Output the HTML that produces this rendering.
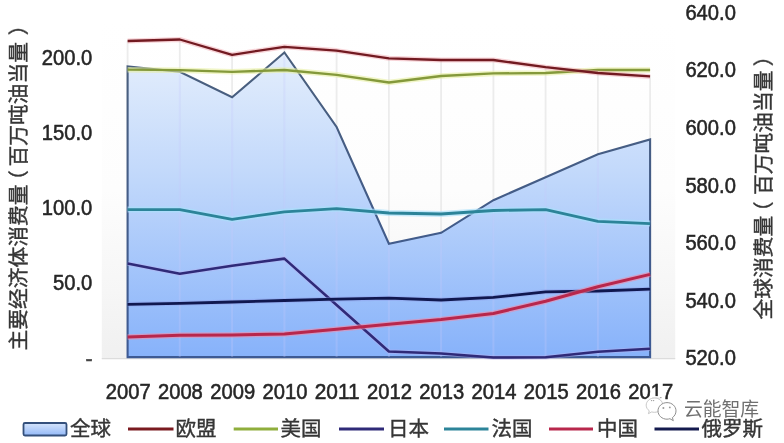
<!DOCTYPE html>
<html lang="zh"><head><meta charset="utf-8"><title>chart</title>
<style>
html,body{margin:0;padding:0;background:#fff;}
body{width:784px;height:443px;overflow:hidden;}
svg{display:block;font-family:"Liberation Sans","Noto Sans CJK SC",sans-serif;}
.num text{font-size:21.2px;fill:#262626;stroke:#262626;stroke-width:0.55px;}
.cjk text{font-size:20.5px;fill:#363636;stroke:#363636;stroke-width:0.4px;} .ttl text{font-size:20.75px;}
</style></head><body>
<svg width="784" height="443" viewBox="0 0 784 443">
<defs>
<linearGradient id="pa" x1="0" y1="0" x2="0" y2="1"><stop offset="0" stop-color="#ffffff"/><stop offset="0.5" stop-color="#fdfdfd"/><stop offset="0.8" stop-color="#f6f6f6"/><stop offset="1" stop-color="#f0f0f0"/></linearGradient>
<linearGradient id="ar" x1="0" y1="0" x2="0" y2="1"><stop offset="0" stop-color="#e4eefc"/><stop offset="0.41" stop-color="#c1d8fb"/><stop offset="1" stop-color="#87b2fa"/></linearGradient>
<linearGradient id="lg" x1="0" y1="0" x2="0" y2="1"><stop offset="0" stop-color="#d6e5fb"/><stop offset="1" stop-color="#94b9f8"/></linearGradient>
<linearGradient id="bd" x1="0" y1="0" x2="0" y2="1"><stop offset="0" stop-color="#4a5f7c"/><stop offset="0.5" stop-color="#435c88"/><stop offset="1" stop-color="#3d5a94"/></linearGradient>
<clipPath id="ac"><path d="M130.6,357.1 L130.6,69.4 L179.8,74.8 L232.1,100.3 L284.4,55.5 L336.6,130.0 L388.9,246.8 L441.1,235.8 L493.4,203.2 L545.6,180.2 L597.9,157.2 L647.1,142.4 L647.1,357.1 Z"/></clipPath>
</defs>
<rect width="784" height="443" fill="#ffffff"/>
<rect x="101.8" y="20" width="573.4" height="339" fill="url(#pa)"/>
<line x1="101.8" y1="358.6" x2="675.2" y2="358.6" stroke="#dcdcdc" stroke-width="1.2"/>
<g stroke="#ececec" stroke-width="1.8"><line x1="127.6" y1="41.0" x2="127.6" y2="357.1"/><line x1="179.8" y1="39.5" x2="179.8" y2="357.1"/><line x1="232.1" y1="54.8" x2="232.1" y2="357.1"/><line x1="284.4" y1="46.8" x2="284.4" y2="357.1"/><line x1="336.6" y1="50.6" x2="336.6" y2="357.1"/><line x1="388.9" y1="58.3" x2="388.9" y2="357.1"/><line x1="441.1" y1="60.0" x2="441.1" y2="357.1"/><line x1="493.4" y1="60.0" x2="493.4" y2="357.1"/><line x1="545.6" y1="67.2" x2="545.6" y2="357.1"/><line x1="597.9" y1="73.0" x2="597.9" y2="357.1"/><line x1="650.1" y1="76.4" x2="650.1" y2="357.1"/></g>
<path d="M127.6,357.1 L127.6,66.4 L179.8,71.8 L232.1,97.3 L284.4,52.5 L336.6,127.0 L388.9,243.8 L441.1,232.8 L493.4,200.2 L545.6,177.2 L597.9,154.2 L650.1,139.4 L650.1,357.1 Z" fill="url(#ar)"/>
<path d="M127.6,357.1 L127.6,66.4 L179.8,71.8 L232.1,97.3 L284.4,52.5 L336.6,127.0 L388.9,243.8 L441.1,232.8 L493.4,200.2 L545.6,177.2 L597.9,154.2 L650.1,139.4 L650.1,357.1 Z" fill="none" stroke="url(#bd)" stroke-width="2.1" stroke-linejoin="miter"/>
<g stroke="#c4c8fa" stroke-width="2" opacity="0.28" clip-path="url(#ac)"><line x1="127.6" y1="41.0" x2="127.6" y2="357.1"/><line x1="179.8" y1="39.5" x2="179.8" y2="357.1"/><line x1="232.1" y1="54.8" x2="232.1" y2="357.1"/><line x1="284.4" y1="46.8" x2="284.4" y2="357.1"/><line x1="336.6" y1="50.6" x2="336.6" y2="357.1"/><line x1="388.9" y1="58.3" x2="388.9" y2="357.1"/><line x1="441.1" y1="60.0" x2="441.1" y2="357.1"/><line x1="493.4" y1="60.0" x2="493.4" y2="357.1"/><line x1="545.6" y1="67.2" x2="545.6" y2="357.1"/><line x1="597.9" y1="73.0" x2="597.9" y2="357.1"/><line x1="650.1" y1="76.4" x2="650.1" y2="357.1"/></g>
<g fill="none" stroke-linejoin="round" stroke-linecap="butt">
<polyline points="127.6,209.6 179.8,209.6 232.1,219.3 284.4,211.8 336.6,208.6 388.9,213.0 441.1,214.0 493.4,210.5 545.6,209.6 597.9,221.3 650.1,223.6" stroke="#a9e0fa" stroke-width="6" opacity="0.65"/>
<polyline points="127.6,209.6 179.8,209.6 232.1,219.3 284.4,211.8 336.6,208.6 388.9,213.0 441.1,214.0 493.4,210.5 545.6,209.6 597.9,221.3 650.1,223.6" stroke="#2c8499" stroke-width="2.8"/>
<polyline points="127.6,263.5 179.8,273.7 232.1,265.8 284.4,258.6 336.6,305.0 388.9,351.5 441.1,353.5 493.4,357.5 545.6,357.3 597.9,351.8 650.1,348.7" stroke="#b9b0f0" stroke-width="4.5" opacity="0.45"/>
<polyline points="127.6,263.5 179.8,273.7 232.1,265.8 284.4,258.6 336.6,305.0 388.9,351.5 441.1,353.5 493.4,357.5 545.6,357.3 597.9,351.8 650.1,348.7" stroke="#2f2a78" stroke-width="2.6"/>
<polyline points="127.6,304.3 179.8,303.3 232.1,302.0 284.4,300.5 336.6,299.2 388.9,298.2 441.1,300.0 493.4,297.4 545.6,291.8 597.9,291.0 650.1,289.2" stroke="#8f9ae8" stroke-width="5" opacity="0.4"/>
<polyline points="127.6,304.3 179.8,303.3 232.1,302.0 284.4,300.5 336.6,299.2 388.9,298.2 441.1,300.0 493.4,297.4 545.6,291.8 597.9,291.0 650.1,289.2" stroke="#10184f" stroke-width="2.8"/>
<polyline points="127.6,337.0 179.8,335.2 232.1,335.0 284.4,333.9 336.6,329.3 388.9,324.2 441.1,319.6 493.4,313.5 545.6,301.2 597.9,286.7 650.1,274.4" stroke="#f08aa8" stroke-width="5.5" opacity="0.6"/>
<polyline points="127.6,337.0 179.8,335.2 232.1,335.0 284.4,333.9 336.6,329.3 388.9,324.2 441.1,319.6 493.4,313.5 545.6,301.2 597.9,286.7 650.1,274.4" stroke="#b8274c" stroke-width="3"/>
<polyline points="127.6,69.7 179.8,70.2 232.1,71.8 284.4,70.0 336.6,74.8 388.9,82.5 441.1,76.0 493.4,73.4 545.6,73.0 597.9,70.0 650.1,70.0" stroke="#e6efa0" stroke-width="5.5" opacity="0.6"/>
<polyline points="127.6,69.7 179.8,70.2 232.1,71.8 284.4,70.0 336.6,74.8 388.9,82.5 441.1,76.0 493.4,73.4 545.6,73.0 597.9,70.0 650.1,70.0" stroke="#84993b" stroke-width="2.3"/>
<polyline points="127.6,41.0 179.8,39.5 232.1,54.8 284.4,46.8 336.6,50.6 388.9,58.3 441.1,60.0 493.4,60.0 545.6,67.2 597.9,73.0 650.1,76.4" stroke="#f0a0a8" stroke-width="5" opacity="0.45"/>
<polyline points="127.6,41.0 179.8,39.5 232.1,54.8 284.4,46.8 336.6,50.6 388.9,58.3 441.1,60.0 493.4,60.0 545.6,67.2 597.9,73.0 650.1,76.4" stroke="#721a21" stroke-width="2.3"/>
</g>
<g class="num"><text x="92.3" y="65.2" text-anchor="end" textLength="50.5" lengthAdjust="spacingAndGlyphs">200.0</text><text x="92.3" y="140" text-anchor="end" textLength="50.5" lengthAdjust="spacingAndGlyphs">150.0</text><text x="92.3" y="214.8" text-anchor="end" textLength="50.5" lengthAdjust="spacingAndGlyphs">100.0</text><text x="92.3" y="289.6" text-anchor="end" textLength="39.3" lengthAdjust="spacingAndGlyphs">50.0</text><text x="92.6" y="365.6" text-anchor="end" style="fill:#444;stroke:#444">-</text><text x="685.4" y="19.8" textLength="50.5" lengthAdjust="spacingAndGlyphs">640.0</text><text x="685.4" y="77.4" textLength="50.5" lengthAdjust="spacingAndGlyphs">620.0</text><text x="685.4" y="135" textLength="50.5" lengthAdjust="spacingAndGlyphs">600.0</text><text x="685.4" y="192.6" textLength="50.5" lengthAdjust="spacingAndGlyphs">580.0</text><text x="685.4" y="250.2" textLength="50.5" lengthAdjust="spacingAndGlyphs">560.0</text><text x="685.4" y="307.8" textLength="50.5" lengthAdjust="spacingAndGlyphs">540.0</text><text x="685.4" y="365.3" textLength="50.5" lengthAdjust="spacingAndGlyphs">520.0</text><text x="128.2" y="399.2" text-anchor="middle" textLength="44.9" lengthAdjust="spacingAndGlyphs">2007</text><text x="180.4" y="399.2" text-anchor="middle" textLength="44.9" lengthAdjust="spacingAndGlyphs">2008</text><text x="232.7" y="399.2" text-anchor="middle" textLength="44.9" lengthAdjust="spacingAndGlyphs">2009</text><text x="285.0" y="399.2" text-anchor="middle" textLength="44.9" lengthAdjust="spacingAndGlyphs">2010</text><text x="337.2" y="399.2" text-anchor="middle" textLength="44.9" lengthAdjust="spacingAndGlyphs">2011</text><text x="389.5" y="399.2" text-anchor="middle" textLength="44.9" lengthAdjust="spacingAndGlyphs">2012</text><text x="441.7" y="399.2" text-anchor="middle" textLength="44.9" lengthAdjust="spacingAndGlyphs">2013</text><text x="494.0" y="399.2" text-anchor="middle" textLength="44.9" lengthAdjust="spacingAndGlyphs">2014</text><text x="546.2" y="399.2" text-anchor="middle" textLength="44.9" lengthAdjust="spacingAndGlyphs">2015</text><text x="598.5" y="399.2" text-anchor="middle" textLength="44.9" lengthAdjust="spacingAndGlyphs">2016</text><text x="650.7" y="399.2" text-anchor="middle" textLength="44.9" lengthAdjust="spacingAndGlyphs">2017</text></g>
<g class="cjk ttl">
<text transform="translate(25.5,350.5) rotate(-90)">主要经济体消费量<tspan dx="-6.5">（</tspan><tspan dx="3.8">百</tspan>万吨油当量<tspan dx="6.7">）</tspan></text>
<text transform="translate(771.2,319.5) rotate(-90)">全球消费量<tspan dx="-6.5">（</tspan><tspan dx="6.5">百</tspan>万吨油当量<tspan dx="4.2">）</tspan></text>
</g>
<g class="cjk">
<rect x="23.5" y="423" width="43" height="12.5" rx="1.5" fill="url(#lg)" stroke="#34507c" stroke-width="1.8"/>
<text x="70" y="436">全球</text>
<line x1="128" y1="429" x2="173.5" y2="429" stroke="#7a1a20" stroke-width="2.8"/>
<text x="175.5" y="436">欧盟</text>
<line x1="233.7" y1="429" x2="278" y2="429" stroke="#8fae3c" stroke-width="3"/>
<text x="280.6" y="436">美国</text>
<line x1="339" y1="429" x2="384" y2="429" stroke="#2f2a78" stroke-width="2.8"/>
<text x="388" y="436">日本</text>
<line x1="444" y1="429" x2="488.5" y2="429" stroke="#2c8499" stroke-width="3"/>
<text x="491.4" y="436">法国</text>
<line x1="549" y1="429" x2="593" y2="429" stroke="#b8274c" stroke-width="3"/>
<text x="597" y="436">中国</text>
<line x1="654.5" y1="429" x2="699" y2="429" stroke="#141a4e" stroke-width="3"/>
<text x="701.6" y="436">俄罗斯</text>
</g>
<g id="wm">
<g fill="#ffffff" stroke="#ffffff" stroke-width="5" stroke-linejoin="round" opacity="0.92">
<path d="M654.5,398 c-4.6,0 -8.3,3.2 -8.3,7.2 c0,2.3 1.2,4.3 3.1,5.6 l-0.9,2.9 l3.3,-1.8 c0.9,0.3 1.8,0.4 2.8,0.4 c4.6,0 8.3,-3.2 8.3,-7.2 c0,-4 -3.7,-7.1 -8.3,-7.1 z"/>
<path d="M667,402.6 c-5,0 -9,3.7 -9,8.3 c0,4.6 4,8.3 9,8.3 c1,0 2,-0.2 2.9,-0.5 l3.4,2 l-0.9,-3.1 c2.2,-1.5 3.6,-3.9 3.6,-6.7 c0,-4.6 -4,-8.3 -9,-8.3 z"/>
</g>
<g fill="#ffffff" stroke="#c2c2c2" stroke-width="0.9">
<path d="M654.5,398 c-4.6,0 -8.3,3.2 -8.3,7.2 c0,2.3 1.2,4.3 3.1,5.6 l-0.9,2.9 l3.3,-1.8 c0.9,0.3 1.8,0.4 2.8,0.4 c4.6,0 8.3,-3.2 8.3,-7.2 c0,-4 -3.7,-7.1 -8.3,-7.1 z"/>
<path d="M667,402.6 c-5,0 -9,3.7 -9,8.3 c0,4.6 4,8.3 9,8.3 c1,0 2,-0.2 2.9,-0.5 l3.4,2 l-0.9,-3.1 c2.2,-1.5 3.6,-3.9 3.6,-6.7 c0,-4.6 -4,-8.3 -9,-8.3 z" stroke="#8f8f8f" stroke-width="1"/>
</g>
<g fill="#9a9a9a"><circle cx="651.6" cy="400.6" r="0.7"/><circle cx="653.6" cy="400.6" r="0.7"/><circle cx="663.4" cy="408" r="1"/><circle cx="669.8" cy="407.4" r="0.9"/></g>
<text x="684" y="416" font-size="18.8" fill="#6f6f6f" stroke="#ffffff" stroke-width="3" paint-order="stroke" stroke-opacity="0.9">云能智库</text>
</g>
</svg>
</body></html>
